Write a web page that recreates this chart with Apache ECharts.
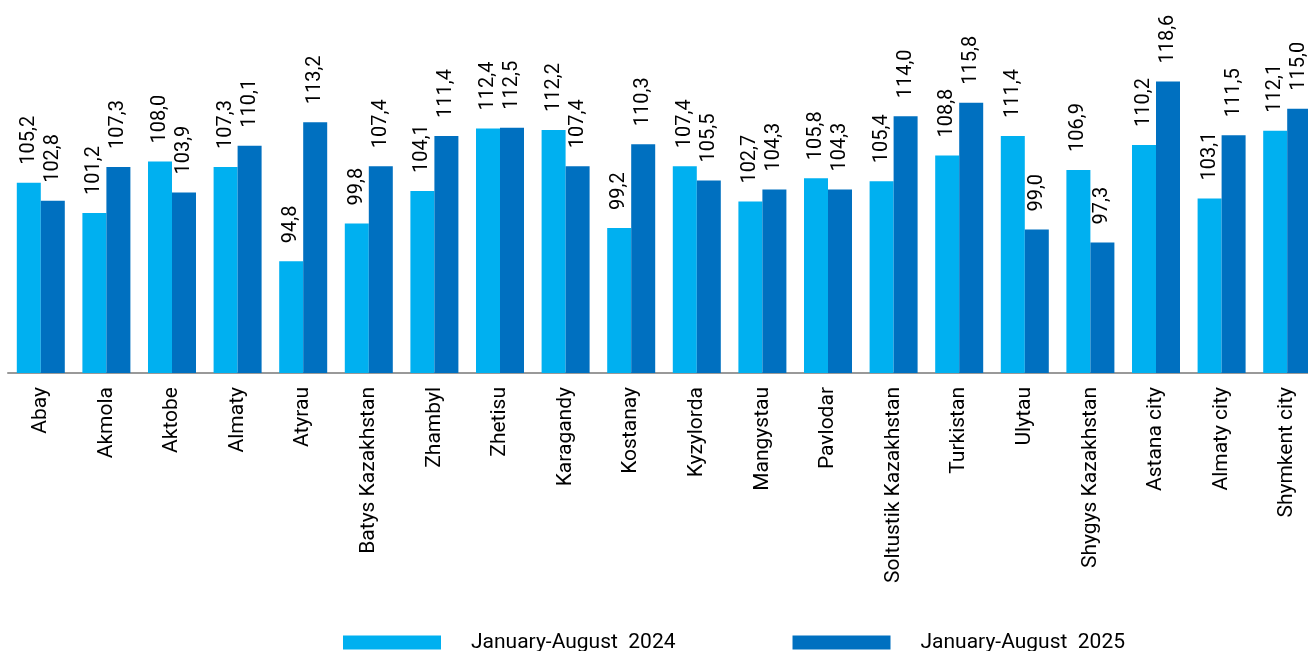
<!DOCTYPE html>
<html><head><meta charset="utf-8">
<script src="https://cdn.jsdelivr.net/npm/echarts@6/dist/echarts.min.js"></script>
<style>html,body{margin:0;padding:0;background:#fff}#c{width:1308px;height:651px}</style>
</head><body><div id="c"></div>
<script>
const categories = ["Abay","Akmola","Aktobe","Almaty","Atyrau","Batys Kazakhstan","Zhambyl","Zhetisu","Karagandy","Kostanay","Kyzylorda","Mangystau","Pavlodar","Soltustik Kazakhstan","Turkistan","Ulytau","Shygys Kazakhstan","Astana city","Almaty city","Shymkent city"];
const values2024 = [105.2,101.2,108.0,107.3,94.8,99.8,104.1,112.4,112.2,99.2,107.4,102.7,105.8,105.4,108.8,111.4,106.9,110.2,103.1,112.1];
const values2025 = [102.8,107.3,103.9,110.1,113.2,107.4,111.4,112.5,107.4,110.3,105.5,104.3,104.3,114.0,115.8,99.0,97.3,118.6,111.5,115.0];
const seriesNames = ["January-August  2024","January-August  2025"];

const fmt = p => p.value.toFixed(1).replace('.', ',');
const labelCfg = {show:true, position:'top', rotate:90, align:'left', verticalAlign:'middle', distance:18, formatter:fmt, fontFamily:'Roboto', fontSize:20, color:'#000'};
const chart = echarts.init(document.getElementById('c'));
chart.setOption({
  animation:false,
  textStyle:{fontFamily:'Roboto'},
  grid:{left:8, width:1312, top:71, bottom:278, containLabel:false, outerBoundsMode:'none'},
  legend:{
    top:627, left:338, itemWidth:98, itemHeight:14, itemGap:117, icon:'rect',
    textStyle:{fontFamily:'Roboto', fontSize:21, color:'#000', padding:[0,0,0,25]},
    data:seriesNames
  },
  xAxis:{
    type:'category', data:categories,
    axisLine:{show:true, lineStyle:{color:'#999', width:2}},
    axisTick:{show:false},
    axisLabel:{interval:0, rotate:90, margin:14, fontFamily:'Roboto', fontSize:21, color:'#000'}
  },
  yAxis:{type:'value', min:80, max:120, show:false, splitLine:{show:false}},
  series:[
    {name:seriesNames[0], type:'bar', data:values2024, barWidth:24, barGap:'0%', itemStyle:{color:'#00B0F0'}, label:labelCfg},
    {name:seriesNames[1], type:'bar', data:values2025, barWidth:24, barGap:'0%', itemStyle:{color:'#0070C0'}, label:labelCfg}
  ]
});
</script></body></html>
